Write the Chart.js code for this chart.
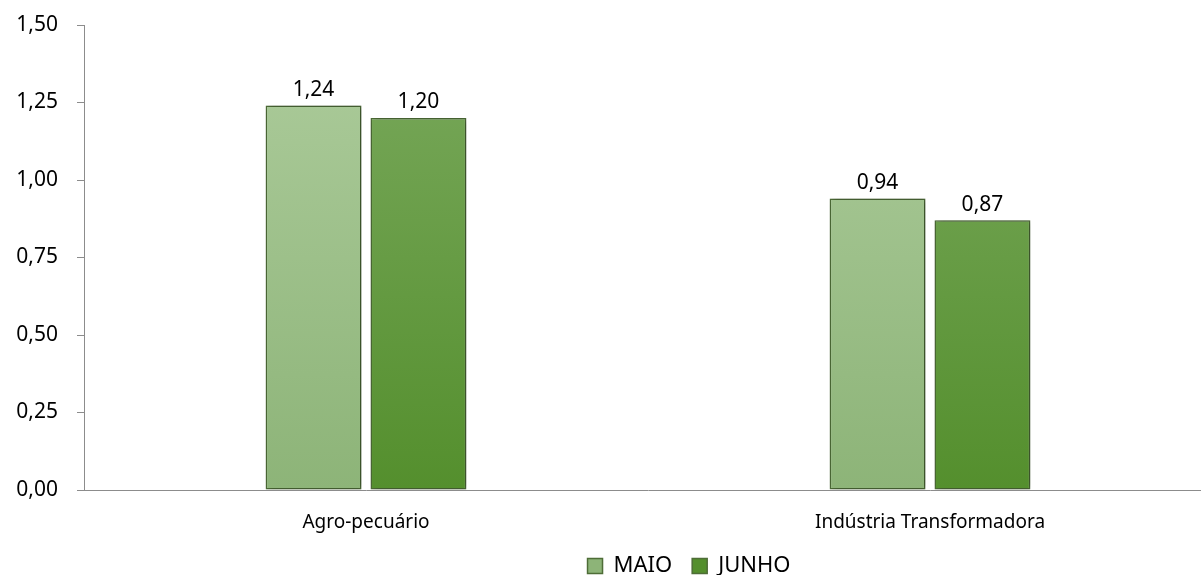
<!DOCTYPE html>
<html>
<head>
<meta charset="utf-8">
<script src="https://cdn.jsdelivr.net/npm/chart.js@4.4.0/dist/chart.umd.min.js"></script>
<style>
  html, body { margin: 0; padding: 0; background: #fff; overflow: hidden; }
  /* the original chart is cropped on the right, so the canvas runs past the window */
  #wrap { width: 1240px; height: 575px; }
</style>
</head>
<body>
<div id="wrap"><canvas id="chart"></canvas></div>
<script>
const categories = ['Agro-pecuário', 'Indústria Transformadora'];
const maioValues = [1.24, 0.94];
const junhoValues = [1.20, 0.87];
const yTicks = [0, 0.25, 0.5, 0.75, 1.0, 1.25, 1.5];

const fmt = v => v.toFixed(2).replace('.', ',');

function gradient(ctx, top, bottom) {
    const chart = ctx.chart;
    const area = chart.chartArea;
    if (!area) return bottom;
    const g = chart.ctx.createLinearGradient(0, area.top, 0, area.bottom);
    g.addColorStop(0, top);
    g.addColorStop(1, bottom);
    return g;
}

// value labels above the bars
const valueLabels = {
    id: 'valueLabels',
    afterDatasetsDraw(chart) {
        const c = chart.ctx;
        c.save();
        c.font = '21px "Noto Sans"';
        c.fillStyle = '#000';
        c.textAlign = 'center';
        c.textBaseline = 'bottom';
        chart.data.datasets.forEach((ds, i) => {
            chart.getDatasetMeta(i).data.forEach((bar, j) => {
                c.fillText(fmt(ds.data[j]), bar.x, bar.y - 5);
            });
        });
        c.restore();
    }
};

// soft shadow behind bars
const barShadow = {
    id: 'barShadow',
    beforeDatasetsDraw(chart) {
        chart.ctx.save();
        chart.ctx.shadowColor = 'rgba(0,0,0,0.35)';
        chart.ctx.shadowBlur = 6;
        chart.ctx.shadowOffsetX = 2;
        chart.ctx.shadowOffsetY = 0;
    },
    afterDatasetsDraw(chart) {
        chart.ctx.restore();
    }
};

// legend sits centred on the visible part of the picture
const legendShift = {
    id: 'legendShift',
    afterUpdate(chart) {
        const dx = 83;
        chart.legend.left += dx;
        chart.legend.right += dx;
    }
};

const ctx = document.getElementById('chart').getContext('2d');
const chart = new Chart(ctx, {
    type: 'bar',
    data: {
        labels: categories,
        datasets: [{
            label: 'MAIO',
            data: maioValues,
            backgroundColor: c => gradient(c, '#adcc9c', '#8db478'),
            borderColor: '#4e6d37',
            borderWidth: 1.5,
            borderSkipped: false,
            barPercentage: 0.914,
            categoryPercentage: 0.372
        }, {
            label: 'JUNHO',
            data: junhoValues,
            backgroundColor: c => gradient(c, '#7aa95d', '#548f2d'),
            borderColor: '#4e6d37',
            borderWidth: 1.5,
            borderSkipped: false,
            barPercentage: 0.914,
            categoryPercentage: 0.372
        }]
    },
    options: {
        responsive: true,
        maintainAspectRatio: false,
        animation: false,
        layout: { padding: { top: 25, right: 28, left: 0, bottom: 0 } },
        scales: {
            x: {
                grid: { display: false, drawTicks: false },
                border: { color: '#8c8c8c', width: 1 },
                ticks: { color: '#000', font: { family: 'Noto Sans', size: 19 }, padding: 21 },
                afterFit: axis => { axis.height = 45; }
            },
            y: {
                min: 0,
                max: 1.5,
                afterBuildTicks: axis => { axis.ticks = yTicks.map(v => ({ value: v })); },
                afterFit: axis => {
                    axis.width = 84;
                    axis.paddingTop = 0;
                    axis.paddingBottom = 0;
                },
                grid: { drawOnChartArea: false, tickLength: 7, color: '#8c8c8c' },
                border: { color: '#8c8c8c', width: 1 },
                ticks: {
                    color: '#000',
                    font: { family: 'Noto Sans', size: 21 },
                    padding: 19,
                    callback: v => fmt(v)
                }
            }
        },
        plugins: {
            legend: {
                position: 'bottom',
                maxHeight: 40,
                labels: {
                    color: '#000',
                    font: { family: 'Noto Sans', size: 22 },
                    boxWidth: 15,
                    boxHeight: 15,
                    padding: 20
                }
            },
            tooltip: { enabled: false }
        }
    },
    plugins: [barShadow, valueLabels, legendShift]
});
</script>
</body>
</html>
